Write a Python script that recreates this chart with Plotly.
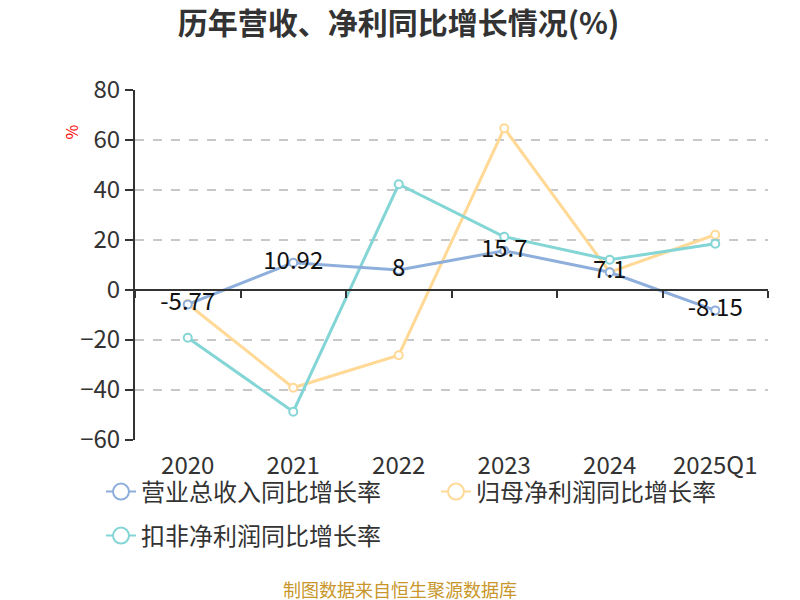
import plotly.graph_objects as go

categories = ["2020", "2021", "2022", "2023", "2024", "2025Q1"]
revenue_growth = [-5.77, 10.92, 8, 15.7, 7.1, -8.15]
net_profit_growth = [-5.6, -39.1, -26.1, 64.7, 7.1, 22.1]
deducted_profit_growth = [-19.1, -48.7, 42.3, 21.3, 12.1, 18.5]
series_names = ["营业总收入同比增长率", "归母净利润同比增长率", "扣非净利润同比增长率"]
y_ticks = [-60, -40, -20, 0, 20, 40, 60, 80]

colors = ["#8eaedc", "#ffd995", "#84d5d6"]
FONT = "Noto Sans CJK SC"

# page body has an 8px margin: figure is drawn 792x592 at offset (8, 8)
W, H = 792, 592
L, T, R, B = 127, 82, 32, 160
plot_w = W - L - R
plot_h = H - T - B

def px_x(px):
    return (px - 8 - L) / plot_w

def px_y(py):
    return 1 - (py - 8 - T) / plot_h

fig = go.Figure()
series = [(net_profit_growth, 1), (deducted_profit_growth, 2), (revenue_growth, 0)]
for vals, i in series:
    fig.add_trace(go.Scatter(
        x=categories, y=vals, name=series_names[i], showlegend=False,
        mode="lines+markers+text" if i == 0 else "lines+markers",
        text=[str(v) for v in vals] if i == 0 else None, textposition="middle center",
        textfont=dict(size=24, color="#111", family=FONT),
        line=dict(color=colors[i], width=3),
        marker=dict(symbol="circle", size=8, color="white", line=dict(color=colors[i], width=2)),
    ))

# legend entries (legend-only, larger open circles as in the reference)
for i in range(3):
    fig.add_trace(go.Scatter(
        x=[None], y=[None], name=series_names[i], mode="lines+markers",
        legend="legend" if i < 2 else "legend2",
        line=dict(color=colors[i], width=2),
        marker=dict(symbol="circle", size=21, color="white", line=dict(color=colors[i], width=2)),
    ))

# invisible trace to draw category axis line at y=0
fig.add_trace(go.Scatter(x=categories, y=[0] * len(categories), xaxis="x2", mode="none",
                         showlegend=False, hoverinfo="skip"))

ymin, ymax = -60, 80
leg_common = dict(orientation="h", xanchor="left", yanchor="middle",
                  font=dict(size=24, color="#333"), itemsizing="trace",
                  bgcolor="rgba(0,0,0,0)", tracegroupgap=0, traceorder="normal",
                  entrywidth=290, entrywidthmode="pixels")
fig.update_layout(
    width=W, height=H,
    paper_bgcolor="white", plot_bgcolor="white",
    margin=dict(l=L, r=R, t=T, b=B, autoexpand=False),
    font=dict(family=FONT, color="#333"),
    title=dict(text="<b>历年营收、净利同比增长情况(%)</b>", x=390.5 / W, xanchor="center",
               y=1 - 15 / H, yanchor="middle", font=dict(size=30, color="#333", family=FONT)),
    xaxis=dict(type="category", categoryorder="array", categoryarray=categories,
               range=[-0.5, 5.5], showline=False, showgrid=False, zeroline=False,
               ticks="", tickfont=dict(size=24, color="#333"), ticklabelstandoff=9),
    xaxis2=dict(type="category", categoryorder="array", categoryarray=categories,
                range=[-0.5, 5.5], overlaying="x", anchor="free",
                position=(0 - ymin) / (ymax - ymin),
                showline=True, linecolor="#333", linewidth=2,
                ticks="outside", tickson="boundaries", ticklen=7, tickwidth=2, tickcolor="#333",
                showticklabels=False, showgrid=False, zeroline=False),
    yaxis=dict(range=[ymin, ymax], tickvals=y_ticks, showline=True, linecolor="#333", linewidth=2,
               ticks="outside", ticklen=8, tickwidth=2, tickcolor="#333",
               tickfont=dict(size=24, color="#333"),
               showgrid=True, gridcolor="#c8c8c8", griddash="dash", gridwidth=1.5,
               zeroline=False),
    legend=dict(x=px_x(101), y=px_y(492), **leg_common),
    legend2=dict(x=px_x(101), y=px_y(536), **leg_common),
    showlegend=True,
)
fig.add_annotation(text="%", xref="paper", yref="paper", x=px_x(56), y=px_y(123),
                   showarrow=False, textangle=-90,
                   font=dict(size=16, color="red", family=FONT))
fig.add_annotation(text="制图数据来自恒生聚源数据库", xref="paper", yref="paper",
                   x=px_x(400), y=px_y(589), yanchor="middle", showarrow=False,
                   font=dict(size=18, color="#c8962a", family=FONT))

fig.write_html("out.html")
